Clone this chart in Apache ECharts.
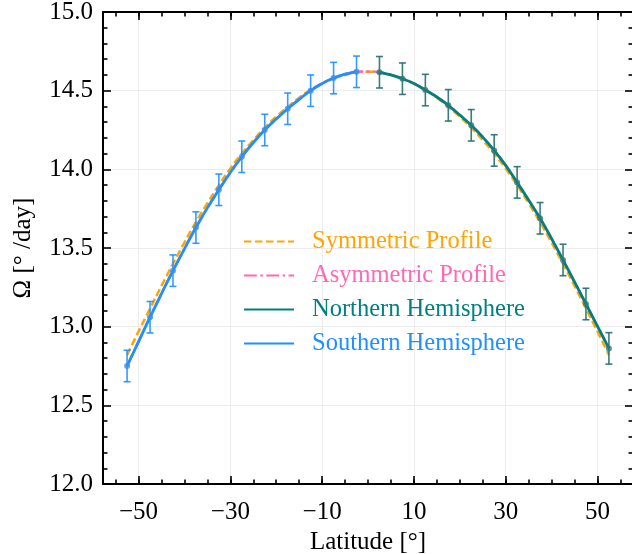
<!DOCTYPE html>
<html>
<head>
<meta charset="utf-8">
<script src="https://cdn.jsdelivr.net/npm/echarts@6/dist/echarts.min.js"></script>
<style>
  html, body { margin: 0; padding: 0; background: #ffffff; }
  #chart { width: 632px; height: 554px; }
</style>
</head>
<body>
<div id="chart"></div>
<script>
// Binned rotation rates with 1-sigma uncertainties
const latSouth = [-52.5, -47.5, -42.5, -37.5, -32.5, -27.5, -22.5, -17.5, -12.5, -7.5, -2.5];
const omegaSouth = [12.75, 13.06, 13.356, 13.63, 13.87, 14.08, 14.25, 14.385, 14.50, 14.58, 14.62];
const errSouth = [0.10, 0.10, 0.10, 0.10, 0.10, 0.10, 0.10, 0.10, 0.10, 0.10, 0.10];

const latNorth = [2.5, 7.5, 12.5, 17.5, 22.5, 27.5, 32.5, 37.5, 42.5, 47.5, 52.5];
const omegaNorth = [14.617, 14.576, 14.504, 14.407, 14.28, 14.12, 13.917, 13.689, 13.424, 13.144, 12.862];
const errNorth = [0.10, 0.10, 0.10, 0.10, 0.10, 0.10, 0.10, 0.10, 0.10, 0.10, 0.10];

// Fitted profiles sampled every 2.5 degrees
const fitLatSouth = [-52.5, -50, -47.5, -45, -42.5, -40, -37.5, -35, -32.5, -30, -27.5,
  -25, -22.5, -20, -17.5, -15, -12.5, -10, -7.5, -5, -2.5];
const fitSouth = [12.75, 12.905, 13.06, 13.21, 13.356, 13.495, 13.63, 13.755, 13.87, 13.98, 14.08,
  14.17, 14.25, 14.32, 14.385, 14.445, 14.50, 14.545, 14.58, 14.605, 14.62];

const fitLatNorth = [2.5, 5, 7.5, 10, 12.5, 15, 17.5, 20, 22.5, 25, 27.5,
  30, 32.5, 35, 37.5, 40, 42.5, 45, 47.5, 50, 52.5];
const fitNorth = [14.617, 14.60, 14.576, 14.545, 14.504, 14.46, 14.407, 14.345, 14.28, 14.205, 14.12,
  14.025, 13.917, 13.805, 13.689, 13.56, 13.424, 13.285, 13.144, 13.003, 12.862];

const fitLatAll = [-52.5, -50, -47.5, -45, -42.5, -40, -37.5, -35, -32.5, -30, -27.5,
  -25, -22.5, -20, -17.5, -15, -12.5, -10, -7.5, -5, -2.5, 0,
  2.5, 5, 7.5, 10, 12.5, 15, 17.5, 20, 22.5, 25, 27.5,
  30, 32.5, 35, 37.5, 40, 42.5, 45, 47.5, 50, 52.5];
const fitSymmetric = [12.82, 12.97, 13.115, 13.26, 13.40, 13.535, 13.665, 13.785, 13.90, 14.005, 14.10,
  14.185, 14.265, 14.335, 14.397, 14.455, 14.505, 14.547, 14.578, 14.60, 14.617, 14.62,
  14.617, 14.60, 14.578, 14.547, 14.505, 14.455, 14.397, 14.335, 14.265, 14.185, 14.10,
  14.005, 13.90, 13.785, 13.665, 13.535, 13.40, 13.26, 13.115, 12.97, 12.82];
const fitAsymmetric = [12.75, 12.905, 13.06, 13.21, 13.356, 13.495, 13.63, 13.755, 13.87, 13.98, 14.08,
  14.17, 14.25, 14.32, 14.385, 14.445, 14.50, 14.545, 14.58, 14.605, 14.62, 14.622,
  14.617, 14.60, 14.576, 14.545, 14.504, 14.46, 14.407, 14.345, 14.28, 14.205, 14.12,
  14.025, 13.917, 13.805, 13.689, 13.56, 13.424, 13.285, 13.144, 13.003, 12.862];

// Axis ticks
const xMajorTicks = [-50, -30, -10, 10, 30, 50];
const xMinorTicks = [-55, -50, -45, -40, -35, -30, -25, -20, -15, -10, -5, 0, 5, 10, 15, 20, 25, 30, 35, 40, 45, 50, 55];
const yMajorTicks = [12.0, 12.5, 13.0, 13.5, 14.0, 14.5, 15.0];
const yMinorTicks = [12.1, 12.2, 12.3, 12.4, 12.6, 12.7, 12.8, 12.9, 13.1, 13.2, 13.3, 13.4,
  13.6, 13.7, 13.8, 13.9, 14.1, 14.2, 14.3, 14.4, 14.6, 14.7, 14.8, 14.9];
const xRange = [-57.75, 57.75];
const yRange = [12.0, 15.0];

const C_SYM = '#FFA500';
const C_ASYM = '#FF69B4';
const C_NORTH = '#008080';
const C_SOUTH = '#1E90FF';
const FONT = '"Liberation Serif", "DejaVu Serif", serif';

const zip = (xs, ys) => xs.map((x, i) => [x, ys[i]]);
const zip3 = (xs, ys, es) => xs.map((x, i) => [x, ys[i], es[i]]);

function minusFmt(v) {
  return v < 0 ? '\u2212' + Math.abs(v) : String(v);
}

function makeX(position, major, showLabel) {
  return {
    type: 'value', position: position, min: xRange[0], max: xRange[1],
    axisLine: { show: major, onZero: false, lineStyle: { color: '#000', width: 2 } },
    axisTick: { show: true, inside: true, length: major ? 8 : 4.5,
      lineStyle: { color: '#000', width: 1.6 },
      customValues: major ? xMajorTicks : xMinorTicks },
    axisLabel: { show: showLabel, customValues: xMajorTicks, formatter: minusFmt,
      color: '#000', fontFamily: FONT, fontSize: 25, margin: 16 },
    splitLine: { show: major && showLabel, lineStyle: { color: '#ececec', width: 1 } },
    name: showLabel ? 'Latitude [\u00b0]' : '',
    nameLocation: 'middle', nameGap: 45,
    nameTextStyle: { color: '#000', fontFamily: FONT, fontSize: 25 }
  };
}

function makeY(position, major, showLabel) {
  return {
    type: 'value', position: position, min: yRange[0], max: yRange[1],
    axisLine: { show: major, onZero: false, lineStyle: { color: '#000', width: 2 } },
    axisTick: { show: true, inside: true, length: major ? 8 : 4.5,
      lineStyle: { color: '#000', width: 1.6 },
      customValues: major ? yMajorTicks : yMinorTicks },
    axisLabel: { show: showLabel, customValues: yMajorTicks,
      formatter: v => v.toFixed(1),
      color: '#000', fontFamily: FONT, fontSize: 25, margin: 10 },
    splitLine: { show: major && showLabel, lineStyle: { color: '#ececec', width: 1 } },
    name: showLabel ? '\u03a9 [\u00b0 /day]' : '',
    nameLocation: 'middle', nameGap: 67,
    nameTextStyle: { color: '#000', fontFamily: FONT, fontSize: 25 }
  };
}

function errorBarItem(color) {
  return function (params, api) {
    const x = api.value(0), y = api.value(1), e = api.value(2);
    const top = api.coord([x, y + e]);
    const bot = api.coord([x, y - e]);
    const cap = 3.5;
    const style = { stroke: color, lineWidth: 1.6, fill: null };
    return {
      type: 'group',
      children: [
        { type: 'line', shape: { x1: top[0], y1: top[1], x2: bot[0], y2: bot[1] }, style: style },
        { type: 'line', shape: { x1: top[0] - cap, y1: top[1], x2: top[0] + cap, y2: top[1] }, style: style },
        { type: 'line', shape: { x1: bot[0] - cap, y1: bot[1], x2: bot[0] + cap, y2: bot[1] }, style: style }
      ]
    };
  };
}

const chart = echarts.init(document.getElementById('chart'), null, { renderer: 'canvas' });

chart.setOption({
  animation: false,
  backgroundColor: '#ffffff',
  grid: { left: 103, top: 12, width: 530, height: 472, containLabel: false, outerBoundsMode: 'none' },
  xAxis: [
    makeX('bottom', true, true),
    makeX('bottom', false, false),
    makeX('top', true, false),
    makeX('top', false, false)
  ],
  yAxis: [
    makeY('left', true, true),
    makeY('left', false, false),
    makeY('right', true, false),
    makeY('right', false, false)
  ],
  legend: {
    orient: 'vertical', left: 243, top: 229, padding: 0,
    itemWidth: 50, itemHeight: 22, itemGap: 9,
    itemStyle: { opacity: 0 },
    textStyle: { fontFamily: FONT, fontSize: 24.5, padding: [0, 0, 0, 13] },
    data: [
      { name: 'Symmetric Profile', textStyle: { color: C_SYM } },
      { name: 'Asymmetric Profile', textStyle: { color: C_ASYM } },
      { name: 'Northern Hemisphere', textStyle: { color: C_NORTH } },
      { name: 'Southern Hemisphere', textStyle: { color: C_SOUTH } }
    ]
  },
  series: [
    {
      name: 'Symmetric Profile', type: 'line', data: zip(fitLatAll, fitSymmetric),
      smooth: true, symbol: 'none', z: 2,
      lineStyle: { color: C_SYM, width: 2.5, type: [7.5, 3.5] },
      itemStyle: { color: C_SYM }
    },
    {
      name: 'Asymmetric Profile', type: 'line', data: zip(fitLatAll, fitAsymmetric),
      smooth: true, symbol: 'none', z: 3,
      lineStyle: { color: C_ASYM, width: 2.5, type: [12.8, 3.5, 2.5, 3.5] },
      itemStyle: { color: C_ASYM }
    },
    {
      name: 'Northern Hemisphere', type: 'line', data: zip(fitLatNorth, fitNorth),
      smooth: true, symbol: 'none', z: 4,
      lineStyle: { color: C_NORTH, width: 2.8 },
      itemStyle: { color: C_NORTH }
    },
    {
      name: 'Southern Hemisphere', type: 'line', data: zip(fitLatSouth, fitSouth),
      smooth: true, symbol: 'none', z: 5,
      lineStyle: { color: C_SOUTH, width: 2.8 },
      itemStyle: { color: C_SOUTH }
    },
    {
      type: 'custom', renderItem: errorBarItem('rgba(35,110,110,0.9)'),
      data: zip3(latNorth, omegaNorth, errNorth), z: 6, silent: true
    },
    {
      type: 'custom', renderItem: errorBarItem('rgba(30,144,255,0.9)'),
      data: zip3(latSouth, omegaSouth, errSouth), z: 6, silent: true
    },
    {
      type: 'scatter', data: zip(latNorth, omegaNorth), symbolSize: 6, z: 7,
      itemStyle: { color: '#2a7a7a' }, silent: true
    },
    {
      type: 'scatter', data: zip(latSouth, omegaSouth), symbolSize: 6, z: 7,
      itemStyle: { color: '#3a8ee8' }, silent: true
    }
  ]
});
</script>
</body>
</html>
